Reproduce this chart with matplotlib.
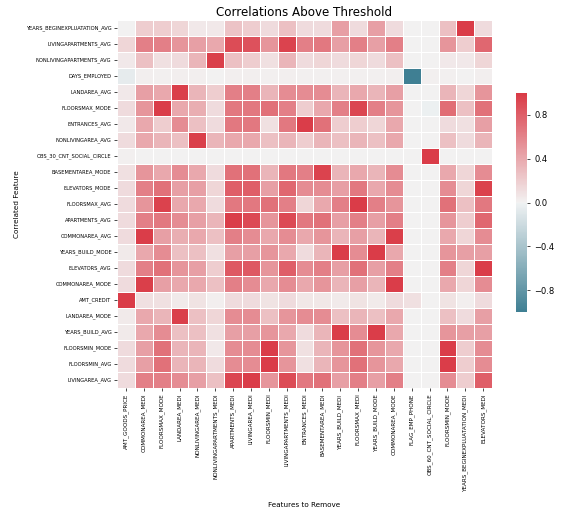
import matplotlib
matplotlib.use("Agg")
import matplotlib.pyplot as plt
import numpy as np
import pandas as pd
import seaborn as sns

# features that get dropped (columns) and the features they correlate with (rows)
remove_cols = ["AMT_GOODS_PRICE", "COMMONAREA_MEDI", "FLOORSMAX_MODE", "LANDAREA_MEDI",
               "NONLIVINGAREA_MEDI", "NONLIVINGAPARTMENTS_MEDI", "APARTMENTS_MEDI",
               "LIVINGAREA_MEDI", "FLOORSMIN_MEDI", "LIVINGAPARTMENTS_MEDI", "ENTRANCES_MEDI",
               "BASEMENTAREA_MEDI", "YEARS_BUILD_MEDI", "FLOORSMAX_MEDI", "YEARS_BUILD_MODE",
               "COMMONAREA_MODE", "FLAG_EMP_PHONE", "OBS_60_CNT_SOCIAL_CIRCLE", "FLOORSMIN_MODE",
               "YEARS_BEGINEXPLUATATION_MEDI", "ELEVATORS_MEDI"]

corr_rows = ["YEARS_BEGINEXPLUATATION_AVG", "LIVINGAPARTMENTS_AVG", "NONLIVINGAPARTMENTS_AVG",
             "DAYS_EMPLOYED", "LANDAREA_AVG", "FLOORSMAX_MODE", "ENTRANCES_AVG",
             "NONLIVINGAREA_AVG", "OBS_30_CNT_SOCIAL_CIRCLE", "BASEMENTAREA_MODE",
             "ELEVATORS_MODE", "FLOORSMAX_AVG", "APARTMENTS_AVG", "COMMONAREA_AVG",
             "YEARS_BUILD_MODE", "ELEVATORS_AVG", "COMMONAREA_MODE", "AMT_CREDIT",
             "LANDAREA_MODE", "YEARS_BUILD_AVG", "FLOORSMIN_MODE", "FLOORSMIN_AVG",
             "LIVINGAREA_AVG"]

corr_values = [
    [0.00, 0.20, 0.20, 0.15, 0.05, 0.05, 0.25, 0.20, 0.12, 0.27, 0.12, 0.12, 0.45, 0.12, 0.45, 0.12, 0.00, 0.00, 0.27, 0.99, 0.12],
    [0.15, 0.62, 0.62, 0.50, 0.45, 0.40, 0.90, 0.87, 0.50, 0.95, 0.62, 0.66, 0.45, 0.62, 0.45, 0.62, 0.00, 0.00, 0.50, 0.20, 0.75],
    [0.05, 0.27, 0.10, 0.12, 0.33, 0.97, 0.27, 0.20, 0.10, 0.33, 0.12, 0.15, 0.12, 0.15, 0.12, 0.27, 0.00, 0.00, 0.05, 0.05, 0.15],
    [-0.06, 0.02, 0.01, 0.02, 0.02, 0.00, 0.02, 0.02, 0.01, 0.02, 0.01, 0.01, 0.01, 0.01, 0.01, 0.02, -1.00, 0.01, 0.01, 0.00, 0.02],
    [0.05, 0.45, 0.40, 0.97, 0.33, 0.20, 0.62, 0.62, 0.33, 0.55, 0.55, 0.55, 0.33, 0.40, 0.33, 0.45, 0.00, 0.00, 0.33, 0.15, 0.50],
    [0.12, 0.50, 0.98, 0.40, 0.37, 0.12, 0.66, 0.66, 0.70, 0.62, 0.20, 0.40, 0.62, 0.93, 0.62, 0.50, 0.00, -0.02, 0.72, 0.27, 0.70],
    [0.05, 0.40, 0.20, 0.55, 0.27, 0.12, 0.66, 0.66, 0.10, 0.66, 0.98, 0.70, 0.20, 0.20, 0.15, 0.40, 0.00, 0.00, 0.12, 0.10, 0.45],
    [0.12, 0.40, 0.33, 0.27, 0.97, 0.33, 0.40, 0.40, 0.27, 0.33, 0.20, 0.33, 0.27, 0.33, 0.27, 0.40, 0.00, 0.00, 0.27, 0.12, 0.33],
    [0.01, 0.00, 0.00, 0.00, 0.00, 0.00, 0.00, 0.00, 0.00, 0.00, 0.00, 0.00, 0.00, 0.00, 0.00, 0.00, 0.00, 0.99, 0.00, 0.00, 0.00],
    [0.10, 0.50, 0.40, 0.55, 0.40, 0.12, 0.70, 0.70, 0.33, 0.66, 0.62, 0.95, 0.33, 0.40, 0.33, 0.55, 0.00, 0.00, 0.40, 0.15, 0.55],
    [0.12, 0.62, 0.70, 0.45, 0.45, 0.15, 0.80, 0.80, 0.45, 0.75, 0.55, 0.55, 0.45, 0.66, 0.40, 0.55, 0.00, 0.00, 0.55, 0.15, 0.96],
    [0.12, 0.50, 0.96, 0.40, 0.40, 0.12, 0.66, 0.66, 0.70, 0.62, 0.15, 0.40, 0.62, 0.99, 0.62, 0.50, 0.00, 0.00, 0.70, 0.27, 0.66],
    [0.12, 0.62, 0.66, 0.55, 0.45, 0.33, 0.98, 0.92, 0.50, 0.92, 0.66, 0.70, 0.45, 0.62, 0.45, 0.62, 0.00, 0.00, 0.50, 0.20, 0.75],
    [0.12, 0.98, 0.45, 0.37, 0.40, 0.27, 0.62, 0.55, 0.40, 0.55, 0.40, 0.50, 0.33, 0.45, 0.33, 0.97, 0.00, 0.00, 0.40, 0.15, 0.55],
    [0.04, 0.40, 0.55, 0.27, 0.27, 0.10, 0.45, 0.45, 0.50, 0.40, 0.12, 0.33, 0.98, 0.55, 0.99, 0.40, 0.00, 0.00, 0.50, 0.45, 0.45],
    [0.12, 0.62, 0.70, 0.50, 0.45, 0.20, 0.83, 0.83, 0.50, 0.80, 0.55, 0.62, 0.45, 0.70, 0.45, 0.62, 0.00, 0.00, 0.62, 0.15, 0.98],
    [0.12, 0.97, 0.45, 0.40, 0.40, 0.27, 0.62, 0.55, 0.40, 0.55, 0.40, 0.50, 0.33, 0.45, 0.33, 0.98, 0.00, 0.00, 0.40, 0.15, 0.55],
    [0.99, 0.10, 0.10, 0.04, 0.08, 0.02, 0.12, 0.12, 0.08, 0.12, 0.06, 0.06, 0.04, 0.08, 0.04, 0.12, 0.10, 0.00, 0.08, 0.02, 0.12],
    [0.04, 0.40, 0.33, 0.97, 0.27, 0.15, 0.55, 0.55, 0.27, 0.50, 0.55, 0.55, 0.27, 0.33, 0.27, 0.40, 0.00, 0.00, 0.27, 0.12, 0.45],
    [0.04, 0.40, 0.55, 0.27, 0.27, 0.10, 0.45, 0.45, 0.50, 0.40, 0.12, 0.33, 0.98, 0.55, 0.98, 0.40, 0.00, 0.00, 0.50, 0.45, 0.45],
    [0.12, 0.45, 0.70, 0.33, 0.33, 0.05, 0.55, 0.55, 0.98, 0.50, 0.10, 0.33, 0.50, 0.70, 0.50, 0.40, 0.00, 0.00, 0.98, 0.20, 0.55],
    [0.12, 0.45, 0.70, 0.33, 0.33, 0.12, 0.55, 0.55, 0.99, 0.50, 0.10, 0.33, 0.50, 0.70, 0.50, 0.40, 0.00, 0.00, 0.98, 0.20, 0.55],
    [0.12, 0.62, 0.62, 0.55, 0.45, 0.27, 0.93, 0.98, 0.50, 0.90, 0.66, 0.70, 0.45, 0.62, 0.45, 0.62, 0.00, 0.00, 0.55, 0.20, 0.80],
]

cbar_ticks = [-0.8, -0.4, 0.0, 0.4, 0.8]

corr = pd.DataFrame(np.array(corr_values), index=corr_rows, columns=remove_cols)

fig = plt.figure(figsize=(5.78, 5.17), dpi=100)
ax = fig.add_axes([0.2024, 0.2495, 0.649, 0.712])
cax = fig.add_axes([0.8927, 0.3965, 0.019, 0.4236])

cmap = sns.diverging_palette(220, 10, as_cmap=True)
sns.heatmap(corr, cmap=cmap, center=0, vmin=-1, vmax=1, linewidths=0.5,
            linecolor="white", ax=ax, cbar_ax=cax)

ax.set_yticks([y + 0.5 for y in range(corr.shape[0])])
ax.set_yticklabels(list(corr.index), size=3.7, rotation=0)
ax.set_xticks([x + 0.5 for x in range(corr.shape[1])])
ax.set_xticklabels(list(corr.columns), size=4.1, rotation=90)
ax.tick_params(length=2, width=0.5, pad=2)

ax.set_title("Correlations Above Threshold", size=8.6, pad=3)
ax.set_xlabel("Features to Remove", size=5.2)
ax.set_ylabel("Correlated Feature", size=5.2)
ax.xaxis.set_label_coords(0.5, -0.31)
ax.yaxis.set_label_coords(-0.258, 0.5)

cax.set_yticks(cbar_ticks)
cax.tick_params(labelsize=6, length=2, width=0.5)

fig.savefig("out.png", dpi=100)
